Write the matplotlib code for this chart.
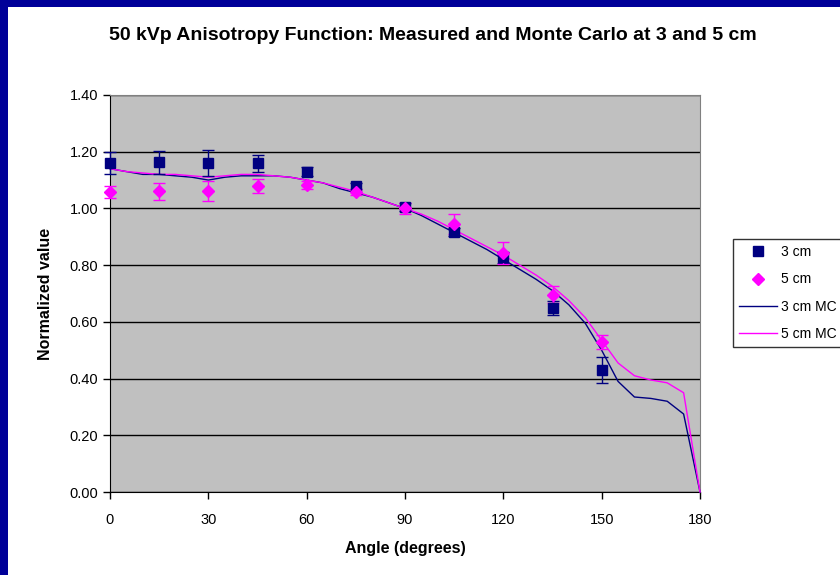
import numpy as np
import matplotlib
matplotlib.use("Agg")
import matplotlib.pyplot as plt
from matplotlib.patches import Rectangle
from matplotlib.lines import Line2D

# measured points
angles = [0, 15, 30, 45, 60, 75, 90, 105, 120, 135, 150]
cm3 = [1.16, 1.163, 1.16, 1.16, 1.13, 1.08, 1.005, 0.917, 0.828, 0.649, 0.43]
cm3Err = [0.04, 0.04, 0.045, 0.03, 0.015, 0.01, 0.015, 0.015, 0.02, 0.026, 0.045]
cm5 = [1.058, 1.06, 1.06, 1.08, 1.083, 1.058, 1.0, 0.945, 0.843, 0.695, 0.529]
cm5Err = [0.02, 0.03, 0.035, 0.025, 0.015, 0.01, 0.02, 0.035, 0.04, 0.03, 0.025]

# monte carlo curves
mcAngles = list(range(0, 181, 5))
mc3 = [1.14, 1.13, 1.12, 1.12, 1.115, 1.11, 1.10, 1.11, 1.115, 1.115, 1.115, 1.11,
       1.10, 1.09, 1.07, 1.055, 1.04, 1.02, 1.00, 0.975, 0.945, 0.915, 0.885, 0.855,
       0.82, 0.785, 0.75, 0.71, 0.66, 0.595, 0.50, 0.39, 0.335, 0.33, 0.32, 0.275, 0.0]
mc5 = [1.14, 1.13, 1.125, 1.12, 1.12, 1.115, 1.11, 1.115, 1.12, 1.12, 1.115, 1.11,
       1.10, 1.09, 1.075, 1.06, 1.04, 1.02, 1.00, 0.98, 0.955, 0.925, 0.895, 0.865,
       0.835, 0.80, 0.765, 0.725, 0.675, 0.615, 0.535, 0.455, 0.41, 0.395, 0.385, 0.35, 0.0]

xTicks = [0, 30, 60, 90, 120, 150, 180]
yTicks = np.arange(0, 1.41, 0.2)

plt.rcParams['font.family'] = ['Liberation Sans', 'DejaVu Sans']

W, H = 840, 575
fig = plt.figure(figsize=(W / 100, H / 100), dpi=100, facecolor='white')
# dark blue slide border on the left and top
fig.patches.append(Rectangle((0, 0), 8 / W, 1, transform=fig.transFigure,
                             facecolor='#000099', edgecolor='none', zorder=-5))
fig.patches.append(Rectangle((0, 1 - 7 / H), 1, 7 / H, transform=fig.transFigure,
                             facecolor='#000099', edgecolor='none', zorder=-5))

ax = fig.add_axes([110 / W, 1 - 492 / H, 590 / W, 397 / H])
ax.set_facecolor('#C0C0C0')
for side in ['top', 'right']:
    ax.spines[side].set_color('#808080')
for side in ['left', 'bottom']:
    ax.spines[side].set_color('black')
ax.set_xlim(0, 180)
ax.set_ylim(0, 1.4)
ax.set_xticks(xTicks)
ax.set_yticks(yTicks)
ax.set_yticklabels(['%.2f' % v for v in yTicks])
ax.yaxis.grid(True, color='black', linewidth=1)
ax.set_axisbelow(True)
ax.tick_params(direction='out', length=5, width=1, labelsize=10.5, colors='black')
ax.tick_params(axis='x', pad=10)

ax.plot(mcAngles, mc3, color='#000080', linewidth=1, zorder=3, clip_on=False)
ax.plot(mcAngles, mc5, color='#FF00FF', linewidth=1, zorder=3, clip_on=False)
ax.errorbar(angles, cm3, yerr=cm3Err, fmt='s', color='#000080', markersize=7,
            capsize=4, elinewidth=1, zorder=4, clip_on=False)
ax.errorbar(angles, cm5, yerr=cm5Err, fmt='D', color='#FF00FF', markersize=6.5,
            capsize=4, elinewidth=1, zorder=4, clip_on=False)

fig.text(433 / W, 1 - 35 / H,
         '50 kVp Anisotropy Function: Measured and Monte Carlo at 3 and 5 cm',
         fontsize=14, fontweight='bold', ha='center', va='center')
ax.set_xlabel('Angle (degrees)', fontsize=11.5, fontweight='bold', labelpad=10)
ax.set_ylabel('Normalized value', fontsize=11.5, fontweight='bold', labelpad=12)

handles = [
    Line2D([], [], linestyle='none', marker='s', color='#000080', markersize=7),
    Line2D([], [], linestyle='none', marker='D', color='#FF00FF', markersize=6.5),
    Line2D([], [], color='#000080', linewidth=1),
    Line2D([], [], color='#FF00FF', linewidth=1),
]
labels = ['3 cm', '5 cm', '3 cm MC', '5 cm MC']
leg = fig.legend(handles, labels, loc='upper left', bbox_to_anchor=(733 / W, 1 - 239 / H),
                 bbox_transform=fig.transFigure, fancybox=False, frameon=True,
                 edgecolor='black', fontsize=10, handlelength=2.7, handletextpad=0.3,
                 borderpad=0.45, borderaxespad=0, labelspacing=0.95)
leg.get_frame().set_linewidth(1)

fig.savefig('out.png', dpi=100, facecolor=fig.get_facecolor())
